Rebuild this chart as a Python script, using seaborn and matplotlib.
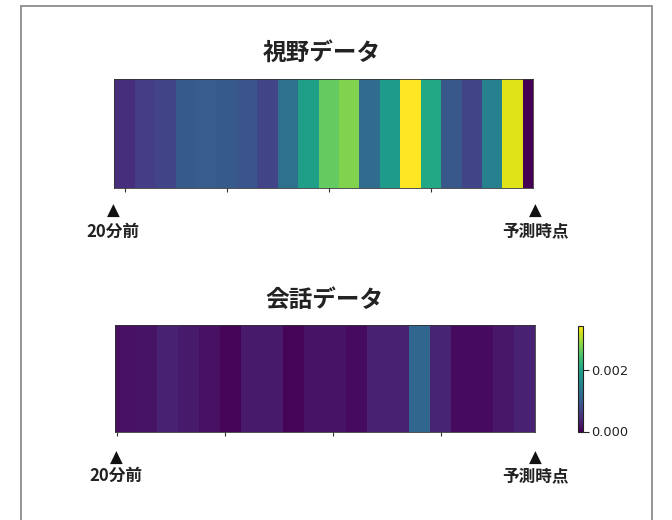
import matplotlib
matplotlib.use("Agg")
import matplotlib.pyplot as plt
import matplotlib.transforms as mtransforms
from matplotlib.patches import Rectangle
import numpy as np
import pandas as pd
import seaborn as sns

sns.set_style("white")
plt.rcParams['font.family'] = ['Noto Sans CJK JP', 'DejaVu Sans']

# ---- data ----
vision_values = [0.13, 0.18, 0.20, 0.28, 0.29, 0.28, 0.26, 0.20, 0.37, 0.56,
                 0.76, 0.81, 0.35, 0.55, 1.00, 0.60, 0.27, 0.20, 0.43, 0.95, 0.00]
talk_values = [0.00014, 0.00017, 0.00031, 0.00024, 0.00014, 0.00003, 0.00024,
               0.00024, 0.00003, 0.00017, 0.00017, 0.00010, 0.00031, 0.00031,
               0.00114, 0.00035, 0.00010, 0.00010, 0.00021, 0.00031]
titles = ["視野データ", "会話データ"]
start_label = "20分前"
end_label = "予測時点"
cbar_ticks = [0.000, 0.002]
talk_vmax = 0.00345
vision_ticks = [0.5, 5.5, 10.5, 15.5]
talk_ticks = [0.1, 5.25, 10.4, 15.5]

W, H = 672, 520
fig = plt.figure(figsize=(W / 100, H / 100), dpi=100)

def box(x0, y0, x1, y1):
    return [x0 / W, 1 - y1 / H, (x1 - x0) / W, (y1 - y0) / H]

ax1 = fig.add_axes(box(114.3, 79, 533, 188))
ax2 = fig.add_axes(box(115, 325, 535, 432))
cax = fig.add_axes(box(578, 325.5, 583, 431.5))

df1 = pd.DataFrame([vision_values])
df2 = pd.DataFrame([talk_values])

sns.heatmap(df1, ax=ax1, cmap="viridis", vmin=0, vmax=1, cbar=False,
            xticklabels=False, yticklabels=False)
ax1.set_xlim(0, len(vision_values) - 0.5)

sns.heatmap(df2, ax=ax2, cmap="viridis", vmin=0, vmax=talk_vmax, cbar=True,
            cbar_ax=cax, xticklabels=False, yticklabels=False)

for ax, ticks in ((ax1, vision_ticks), (ax2, talk_ticks)):
    ax.set_xticks(ticks)
    ax.tick_params(axis='x', bottom=True, length=3, width=0.8, color='#333333',
                   labelbottom=False)
    ax.set_xlabel("")
    ax.set_ylabel("")
    for s in ax.spines.values():
        s.set_visible(True)
        s.set_linewidth(0.6)
        s.set_color('#333333')

cb = ax2.collections[0].colorbar
cb.set_ticks(cbar_ticks)
cb.set_ticklabels([f"{t:.3f}" for t in cbar_ticks])
cb.outline.set_linewidth(0.8)
cb.outline.set_edgecolor('#222222')
cax.tick_params(length=4, width=0.8, color='#222222', labelsize=9.3,
                labelcolor='#222222', pad=2)
for lab in cax.get_yticklabels():
    lab.set_family(['DejaVu Sans'])

# titles
fig.text(322 / W, 1 - 53 / H, titles[0], ha='center', va='center',
         fontsize=17, fontweight='bold', color='#222222')
fig.text(324 / W, 1 - 300 / H, titles[1], ha='center', va='center',
         fontsize=17, fontweight='bold', color='#222222')

# start / end markers
def markers(ax, tri_y, lab_y, x_left, x_right):
    tr = mtransforms.blended_transform_factory(ax.transData, ax.transAxes)
    for x, lab in ((x_left, start_label), (x_right, end_label)):
        ax.text(x, tri_y, "▲", transform=tr, ha='center', va='center',
                fontsize=12, color='#111111', family=['DejaVu Sans'])
        ax.text(x, lab_y, lab, transform=tr, ha='center', va='center',
                fontsize=12, fontweight='bold', color='#222222')

markers(ax1, -0.21, -0.40, -0.05, ax1.get_xlim()[1] + 0.1)
markers(ax2, -0.245, -0.41, 0.05, len(talk_values))

# outer frame
fig.patches.append(Rectangle((21 / W, -0.02), (652 - 21) / W, 1.02 - 6 / H + 0.0,
                             transform=fig.transFigure, fill=False,
                             edgecolor='#8c8c8c', linewidth=1.3))

fig.savefig("out.png", dpi=100)
